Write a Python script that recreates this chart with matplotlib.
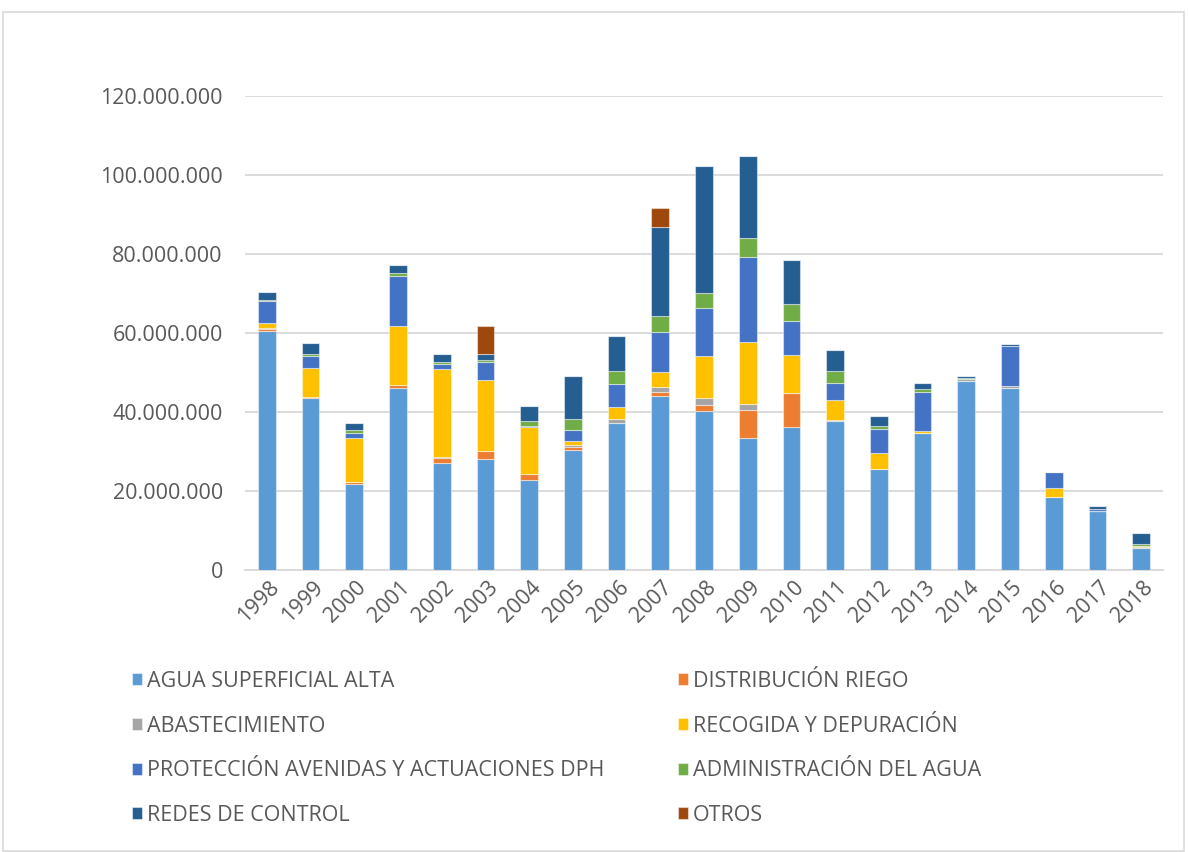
import matplotlib
matplotlib.use('Agg')
import matplotlib.pyplot as plt
import numpy as np
from matplotlib.patches import Rectangle
from matplotlib.ticker import FuncFormatter
import matplotlib.transforms as mtransforms

plt.rcParams['font.family'] = ['Open Sans', 'DejaVu Sans']

years = [str(y) for y in range(1998, 2019)]

# importes en millones de euros
agua_superficial = [60.4, 43.5, 21.8, 46.2, 27.0, 28.1, 22.8, 30.5, 37.3, 44.1, 40.3,
                    33.5, 36.2, 37.7, 25.5, 34.7, 47.8, 46.2, 18.4, 14.9, 5.6]
distribucion_riego = [0.7, 0.25, 0.4, 0.6, 1.3, 2.1, 1.4, 0.6, 0.0, 1.0, 1.4,
                      7.0, 8.6, 0.0, 0.0, 0.0, 0.1, 0.0, 0.0, 0.0, 0.0]
abastecimiento = [0.1, 0.0, 0.0, 0.0, 0.2, 0.0, 0.0, 0.5, 0.9, 1.3, 1.8,
                  1.4, 0.1, 0.2, 0.0, 0.0, 0.4, 0.4, 0.0, 0.0, 0.1]
recogida = [1.3, 7.5, 11.1, 15.0, 22.4, 17.9, 11.9, 1.0, 3.1, 3.8, 10.6,
            15.8, 9.6, 5.2, 4.0, 0.4, 0.0, 0.0, 2.3, 0.0, 0.3]
proteccion = [5.5, 3.0, 1.3, 12.6, 1.3, 4.6, 0.4, 2.8, 5.9, 10.0, 12.3,
              21.5, 8.6, 4.3, 6.2, 10.0, 0.0, 10.1, 4.0, 0.6, 0.0]
administracion = [0.4, 0.5, 0.8, 0.9, 0.5, 0.4, 1.1, 2.9, 3.1, 4.1, 3.8,
                  4.9, 4.2, 3.1, 0.8, 0.8, 0.4, 0.0, 0.0, 0.0, 0.5]
redes_control = [2.0, 2.7, 1.8, 1.8, 1.9, 1.7, 4.0, 10.7, 8.9, 22.5, 32.2,
                 20.6, 11.1, 5.2, 2.4, 1.4, 0.3, 0.4, 0.0, 0.6, 2.8]
otros = [0, 0, 0, 0, 0, 6.9, 0, 0, 0, 4.9, 0,
         0, 0, 0, 0, 0, 0, 0, 0, 0, 0]

series = [
    ('AGUA SUPERFICIAL ALTA', agua_superficial, '#5B9BD5'),
    ('DISTRIBUCIÓN RIEGO', distribucion_riego, '#ED7D31'),
    ('ABASTECIMIENTO', abastecimiento, '#A5A5A5'),
    ('RECOGIDA Y DEPURACIÓN', recogida, '#FFC000'),
    ('PROTECCIÓN AVENIDAS Y ACTUACIONES DPH', proteccion, '#4472C4'),
    ('ADMINISTRACIÓN DEL AGUA', administracion, '#70AD47'),
    ('REDES DE CONTROL', redes_control, '#255E91'),
    ('OTROS', otros, '#9E480E'),
]

FS = 15.5
fig = plt.figure(figsize=(11.88, 8.52), dpi=100)
ax = fig.add_axes([245 / 1188, 1 - 570 / 852, (1163 - 245) / 1188, (570 - 96) / 852])

x = np.arange(len(years))
bottom = np.zeros(len(years))
handles = []
for name, vals, col in series:
    v = np.array(vals) * 1e6
    b = ax.bar(x, v, 0.405, bottom=bottom, color=col, edgecolor=(1, 1, 1, 0.45),
               linewidth=0.8, label=name, zorder=3)
    handles.append(b)
    bottom += v

ax.set_xlim(-0.5, len(years) - 0.5)
ax.set_ylim(0, 120e6)
ax.set_yticks(np.arange(0, 120e6 + 1, 20e6))
ax.yaxis.set_major_formatter(FuncFormatter(lambda v, p: f"{int(v):,}".replace(',', '.')))
ax.grid(axis='y', color='#D9D9D9', linewidth=1.3, zorder=0)
for s in ['top', 'right', 'left']:
    ax.spines[s].set_visible(False)
ax.spines['bottom'].set_color('#D9D9D9')
ax.spines['bottom'].set_linewidth(1.3)
ax.tick_params(axis='y', length=0, pad=16, labelsize=FS, labelcolor='#595959')
ax.tick_params(axis='x', length=0, pad=6, labelsize=FS, labelcolor='#595959')
ax.set_xticks(x)
ax.set_xticklabels(years, rotation=45, ha='right', va='center', rotation_mode='anchor')
offset = mtransforms.ScaledTranslation(9 / 100, -6 / 100, fig.dpi_scale_trans)
for lab in ax.get_xticklabels():
    lab.set_transform(lab.get_transform() + offset)

# leyenda por filas: reordenar para ncol=2
order = [0, 2, 4, 6, 1, 3, 5, 7]
fig.legend([handles[i] for i in order], [series[i][0] for i in order],
           loc='upper left', bbox_to_anchor=(132 / 1188, 1 - 671 / 852), ncol=2,
           frameon=False, fontsize=FS, labelcolor='#595959',
           handlelength=0.48, handleheight=0.48, handletextpad=0.22,
           labelspacing=1.1, columnspacing=3.4, borderaxespad=0, borderpad=0)

fig.patches.append(Rectangle((3 / 1188, 1 / 852), 1181 / 1188, 1 - 13 / 852,
                             transform=fig.transFigure, fill=False,
                             edgecolor='#D9D9D9', linewidth=1.2))

fig.savefig('out.png', dpi=100)
